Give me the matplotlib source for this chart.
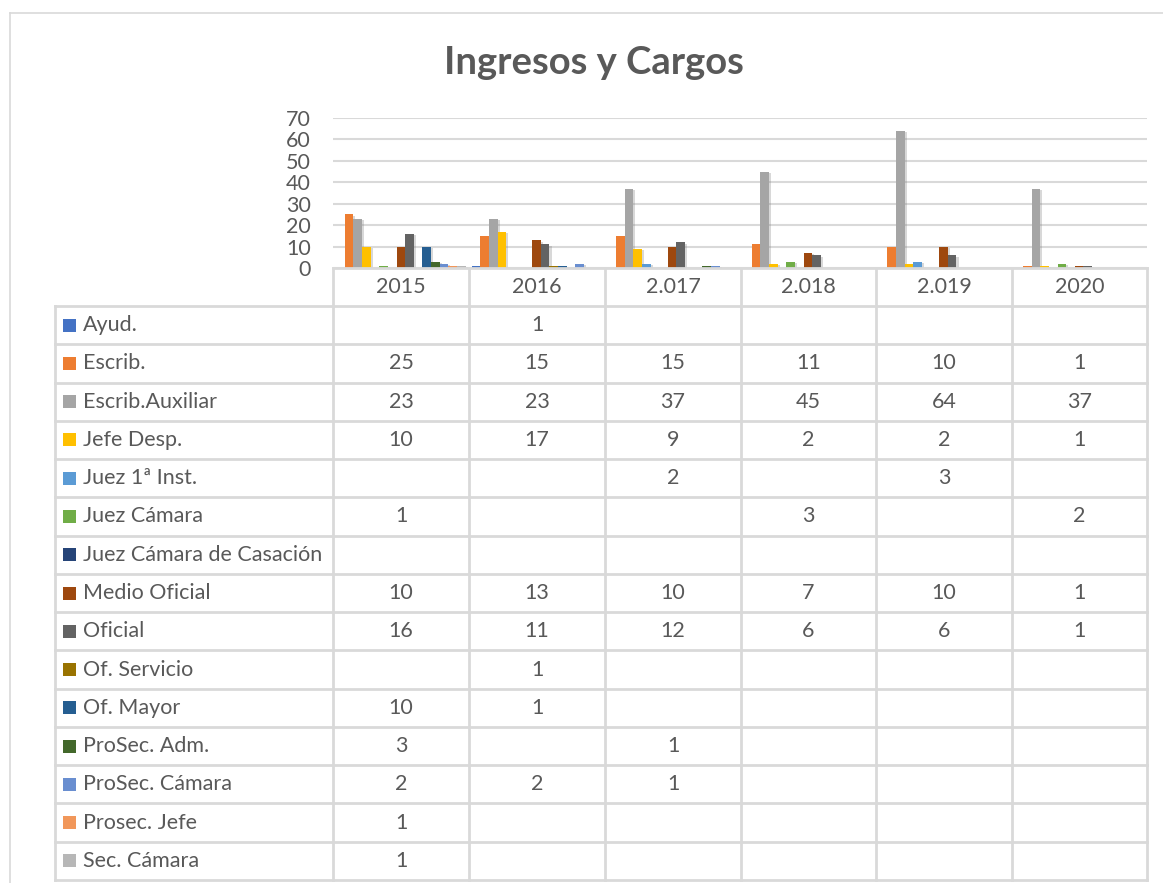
import numpy as np
import matplotlib
matplotlib.use('Agg')
import matplotlib.pyplot as plt
import matplotlib.patheffects as pe

plt.rcParams['font.family'] = ['Lato', 'DejaVu Sans']

# Data
years = ['2015', '2016', '2.017', '2.018', '2.019', '2020']
cargos = ['Ayud.', 'Escrib.', 'Escrib.Auxiliar', 'Jefe Desp.', 'Juez 1ª Inst.',
          'Juez Cámara', 'Juez Cámara de Casación', 'Medio Oficial', 'Oficial',
          'Of. Servicio', 'Of. Mayor', 'ProSec. Adm.', 'ProSec. Cámara',
          'Prosec. Jefe', 'Sec. Cámara']

ayud = [None, 1, None, None, None, None]
escrib = [25, 15, 15, 11, 10, 1]
escrib_aux = [23, 23, 37, 45, 64, 37]
jefe_desp = [10, 17, 9, 2, 2, 1]
juez_1ra = [None, None, 2, None, 3, None]
juez_camara = [1, None, None, 3, None, 2]
juez_casacion = [None, None, None, None, None, None]
medio_oficial = [10, 13, 10, 7, 10, 1]
oficial = [16, 11, 12, 6, 6, 1]
of_servicio = [None, 1, None, None, None, None]
of_mayor = [10, 1, None, None, None, None]
prosec_adm = [3, None, 1, None, None, None]
prosec_camara = [2, 2, 1, None, None, None]
prosec_jefe = [1, None, None, None, None, None]
sec_camara = [1, None, None, None, None, None]

series = [ayud, escrib, escrib_aux, jefe_desp, juez_1ra, juez_camara, juez_casacion,
          medio_oficial, oficial, of_servicio, of_mayor, prosec_adm, prosec_camara,
          prosec_jefe, sec_camara]

colors = ['#4472C4', '#ED7D31', '#A5A5A5', '#FFC000', '#5B9BD5', '#70AD47', '#264478',
          '#9E480E', '#636363', '#997300', '#255E91', '#43682B', '#698ED0',
          '#F1975A', '#B7B7B7']

W, H = 1163, 883
TXT = '#595959'
GRID = '#D9D9D9'
FS = 15.5


def fx(px):
    return px / W


def fy(py):
    return 1 - py / H


fig = plt.figure(figsize=(W / 100, H / 100), dpi=100)
fig.patch.set_facecolor('white')

# outer chart border
fig.add_artist(plt.Line2D([fx(10), fx(W)], [fy(13), fy(13)], color=GRID, lw=1.2))
fig.add_artist(plt.Line2D([fx(10), fx(10)], [fy(13), fy(H)], color=GRID, lw=1.2))

fig.text(fx(594), fy(63), 'Ingresos y Cargos', ha='center', va='center',
         fontsize=27.5, fontweight='bold', color=TXT)

# bar chart
col_x = [333, 469, 605, 741, 876, 1012, 1147]
top, base = 118, 268
ax = fig.add_axes([fx(333), fy(base), (1147 - 333) / W, (base - top) / H])
n = len(series)
gap = 3 / 136
w = (1 - 2 * gap) / n
x = np.arange(len(years))
shadow = [pe.SimplePatchShadow(offset=(1.5, -1), shadow_rgbFace='#808080', alpha=0.3),
          pe.Normal()]
for j, (vals, c) in enumerate(zip(series, colors)):
    v = np.array([np.nan if a is None else a for a in vals], dtype=float)
    bars = ax.bar(x - 0.5 + gap + w * (j + 0.5), v, width=w, color=c, zorder=3)
    for b in bars:
        b.set_path_effects(shadow)

ax.set_xlim(-0.5, len(years) - 0.5)
ax.set_ylim(0, 70)
ax.set_yticks(range(0, 71, 10))
ax.yaxis.grid(True, color=GRID, lw=1.5, zorder=0)
ax.set_xticks([])
for s in ax.spines.values():
    s.set_visible(False)
ax.tick_params(axis='y', length=0, pad=16, labelsize=FS, labelcolor=TXT)
ax.patch.set_alpha(0)

# data table
row0 = 306
rh = (880 - 306) / 15
line_kw = dict(color=GRID, lw=2)
fig.add_artist(plt.Line2D([fx(333), fx(1147)], [fy(base), fy(base)], **line_kw))
for k in range(n + 1):
    yy = row0 + k * rh
    fig.add_artist(plt.Line2D([fx(55), fx(1147)], [fy(yy), fy(yy)], **line_kw))
fig.add_artist(plt.Line2D([fx(55), fx(55)], [fy(row0), fy(880)], **line_kw))
for cx in col_x:
    fig.add_artist(plt.Line2D([fx(cx), fx(cx)], [fy(base), fy(880)], **line_kw))

for i, yr in enumerate(years):
    cx = (col_x[i] + col_x[i + 1]) / 2
    fig.text(fx(cx), fy((base + row0) / 2), yr, ha='center', va='center',
             fontsize=FS, color=TXT)

for j, (name, vals, c) in enumerate(zip(cargos, series, colors)):
    cy = row0 + (j + 0.5) * rh
    fig.add_artist(plt.Rectangle((fx(63), fy(cy + 6.5)), 13 / W, 13 / H,
                                 facecolor=c, edgecolor='none'))
    fig.text(fx(83), fy(cy), name, ha='left', va='center', fontsize=FS, color=TXT)
    for i, v in enumerate(vals):
        if v is None:
            continue
        cx = (col_x[i] + col_x[i + 1]) / 2
        fig.text(fx(cx), fy(cy), str(v), ha='center', va='center',
                 fontsize=FS, color=TXT)

plt.savefig('out.png', dpi=100, facecolor='white')
